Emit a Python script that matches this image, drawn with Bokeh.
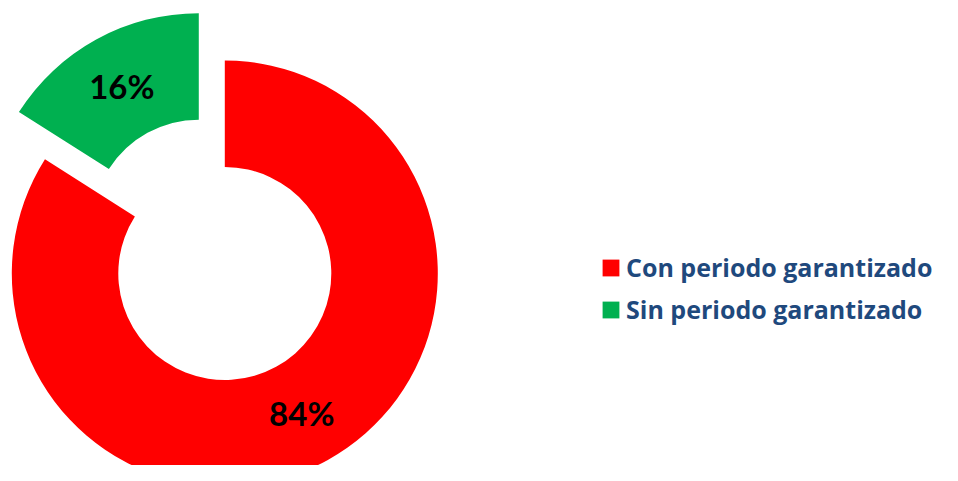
import numpy as np
from bokeh.plotting import figure
from bokeh.models import ColumnDataSource, Range1d
from bokeh.core.properties import value
from bokeh.embed import file_html
from bokeh.resources import INLINE

# ---- data ----
categories = ["Con periodo garantizado", "Sin periodo garantizado"]
shares = [84, 16]
pct_labels = ["84%", "16%"]
colors = ["#FF0000", "#00B050"]

# ---- layout constants ----
W, H = 942, 465
CX, CY = 224.3, 192.0
R_OUT, R_IN = 213.0, 106.5
EXPLODE = [0.0, 54.0]

frac = np.array(shares, dtype=float) / sum(shares)
cum = np.concatenate([[0.0], np.cumsum(frac)])
start = np.pi / 2 - 2 * np.pi * cum[:-1]
end = np.pi / 2 - 2 * np.pi * cum[1:]
mid = (start + end) / 2
ox = CX + np.array(EXPLODE) * np.cos(mid)
oy = CY + np.array(EXPLODE) * np.sin(mid)
r_lab = (R_OUT + R_IN) / 2
lx = ox + r_lab * np.cos(mid)
ly = oy + r_lab * np.sin(mid)

src = ColumnDataSource(dict(category=categories, color=colors, x=ox, y=oy,
                            start=start, end=end, lx=lx, ly=ly, lab=pct_labels))

p = figure(width=W, height=H, x_range=Range1d(0, W), y_range=Range1d(0, H),
           output_backend="svg", toolbar_location=None, min_border=0,
           x_axis_location=None, y_axis_location=None)
p.grid.visible = False
p.outline_line_color = None
p.background_fill_color = "white"
p.border_fill_color = "white"

p.annular_wedge(x="x", y="y", inner_radius=R_IN, outer_radius=R_OUT,
                start_angle="start", end_angle="end", direction="clock",
                fill_color="color", line_color=None, source=src,
                legend_field="category")

p.text(x="lx", y="ly", text="lab", source=src, text_align="center",
       text_baseline="middle", text_font=value("Lato"), text_font_style="bold",
       text_font_size="33px", text_color="black")

lg = p.legend[0]
lg.location = (600, 139)
lg.border_line_color = None
lg.background_fill_alpha = 0
lg.padding = 0
lg.margin = 0
lg.glyph_width = 21
lg.glyph_height = 21
lg.label_standoff = 5
lg.spacing = 8
lg.label_height = 21
lg.label_text_font = "Open Sans"
lg.label_text_font_style = "bold"
lg.label_text_font_size = "25px"
lg.label_text_color = "#1F497D"
lg.label_text_baseline = "middle"

open("out.html", "w").write(file_html(p, INLINE))
